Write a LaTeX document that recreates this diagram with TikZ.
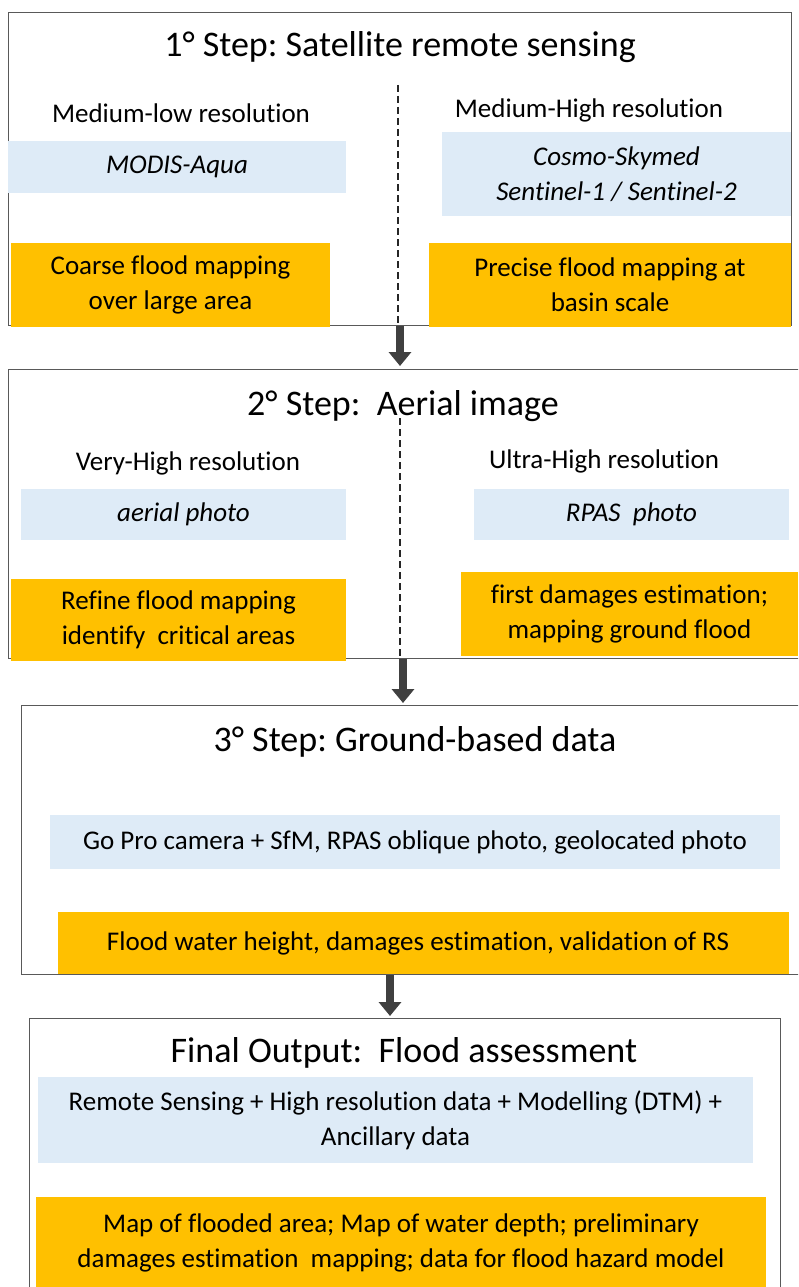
\documentclass[tikz,border=0pt]{standalone}
\usepackage{fontspec}
\setmainfont{Carlito}[Ligatures={NoCommon,NoRequired,NoContextual}]
\frenchspacing
\usetikzlibrary{arrows.meta}
\definecolor{lblue}{HTML}{DEEBF7}
\definecolor{gold}{HTML}{FFC000}
\definecolor{framegray}{HTML}{595959}
\definecolor{arrowgray}{HTML}{404040}
\tikzset{
  frame/.style={draw=framegray, line width=1.3pt, inner sep=0pt, anchor=north west},
  bluebox/.style={fill=lblue, inner sep=0pt, align=center, font=\fontsize{27}{35}\selectfont\itshape},
  bluebody/.style={fill=lblue, inner sep=0pt, align=center, font=\fontsize{27}{35}\selectfont},
  goldbox/.style={fill=gold, inner sep=0pt, align=center, font=\fontsize{27}{35}\selectfont},
  lbl/.style={inner sep=0pt, font=\fontsize{27}{35}\selectfont},
  steptitle/.style={inner sep=0pt, font=\fontsize{36}{42}\selectfont},
  divider/.style={draw=black!85, line width=1.4pt, dash pattern=on 7pt off 4pt},
  flowarrow/.style={draw=arrowgray, line width=8pt, -{Triangle[width=22pt,length=14pt]}}
}
\begin{document}
\begin{tikzpicture}[x=1pt,y=-1pt]
\useasboundingbox (0,0) rectangle (798,1287);
\clip (0,0) rectangle (798,1287);
\fill[white] (0,0) rectangle (798,1287);

% ---------- Step 1 ----------
\node[frame, minimum width=783pt, minimum height=313pt] (box1) at (8,12) {};
\node[steptitle] (t1) at (400,47) {1° Step: Satellite remote sensing};
\node[lbl] (l1a) at (181,113) {Medium-low resolution};
\node[lbl] (l1b) at (589,110) {Medium-High resolution};
\node[bluebox, minimum width=338pt, minimum height=52pt] (b1a) at (177,167) {MODIS-Aqua};
\node[bluebox, minimum width=349pt, minimum height=84pt] (b1b) at (616.5,174) {Cosmo-Skymed\\Sentinel-1 / Sentinel-2};
\node[goldbox, minimum width=319pt, minimum height=84pt] (o1a) at (170.5,285) {Coarse flood mapping\\over large area};
\node[goldbox, minimum width=362pt, minimum height=84pt] (o1b) at (610,285) {Precise flood mapping at\\basin scale};
\coordinate (d1s) at (398,85);
\coordinate (d1e) at (398,325);
\draw[divider] (d1s) -- (d1e);

% ---------- Step 2 ----------
\node[frame, minimum width=810pt, minimum height=289pt] (box2) at (8,369) {};
\node[steptitle] (t2) at (403,406) {2° Step:\ \ Aerial image};
\node[lbl] (l2a) at (188,463) {Very-High resolution};
\node[lbl] (l2b) at (604,461) {Ultra-High resolution};
\node[bluebox, minimum width=325pt, minimum height=51pt] (b2a) at (183.5,514.5) {aerial photo};
\node[bluebox, minimum width=315pt, minimum height=51pt] (b2b) at (631.5,514.5) {RPAS\ \ photo};
\node[goldbox, minimum width=335pt, minimum height=82pt] (o2a) at (178.5,620) {Refine flood mapping\\identify\ \ critical areas};
\node[goldbox, minimum width=337pt, minimum height=84pt] (o2b) at (629.5,614) {first damages estimation;\\mapping ground flood};
\coordinate (d2s) at (400,418);
\coordinate (d2e) at (400,658);
\draw[divider] (d2s) -- (d2e);

% ---------- Step 3 ----------
\node[frame, minimum width=790pt, minimum height=269pt] (box3) at (21,705) {};
\node[steptitle] (t3) at (415,742) {3° Step: Ground-based data};
\node[bluebody, minimum width=730pt, minimum height=54pt] (b3) at (415,842) {Go Pro camera + SfM, RPAS oblique photo, geolocated photo};
\node[goldbox, minimum width=731pt, minimum height=62pt] (o3) at (423.5,943) {\hspace*{-11pt}Flood water height, damages estimation, validation of RS};

% ---------- Final ----------
\node[frame, minimum width=751pt, minimum height=290pt] (box4) at (29,1018) {};
\node[steptitle] (t4) at (404,1053) {Final Output:\ \ Flood assessment};
\node[bluebody, minimum width=715pt, minimum height=86pt] (b4) at (395.5,1120) {Remote Sensing + High resolution data + Modelling (DTM) +\\Ancillary data};
\node[goldbox, minimum width=730pt, minimum height=92pt] (o4) at (401,1243) {Map of flooded area; Map of water depth; preliminary\\damages estimation\ \ mapping; data for flood hazard model};

% ---------- arrows ----------
\coordinate (a1s) at (400,326);
\coordinate (a1e) at (400,366);
\coordinate (a2s) at (403,659);
\coordinate (a2e) at (403,703);
\coordinate (a3s) at (390,975);
\coordinate (a3e) at (390,1016);
\draw[flowarrow] (a1s) -- (a1e);
\draw[flowarrow] (a2s) -- (a2e);
\draw[flowarrow] (a3s) -- (a3e);
\end{tikzpicture}
\end{document}
